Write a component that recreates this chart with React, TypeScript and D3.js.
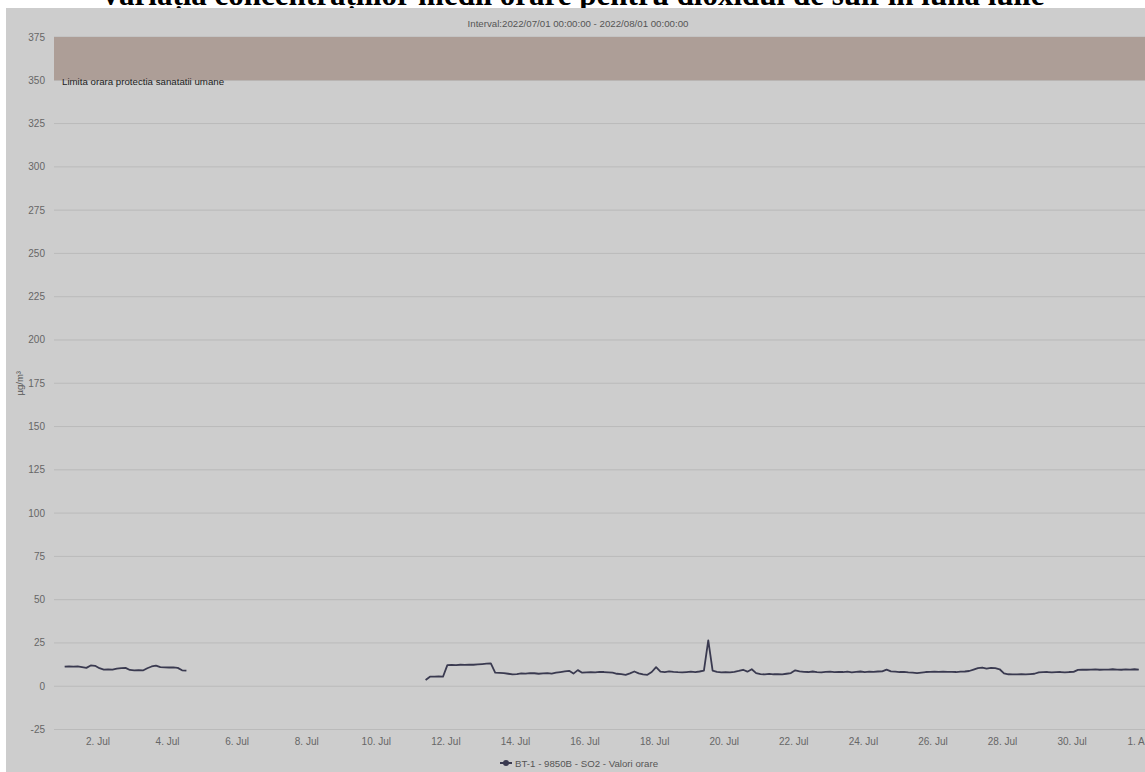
import React from "react";
import * as d3 from "d3";

const TITLE = "Variația concentrațiilor medii orare pentru dioxidul de sulf în luna iulie";
const SUBTITLE = "Interval:2022/07/01 00:00:00 - 2022/08/01 00:00:00";
const Y_TITLE = "µg/m³";
const BAND_LABEL = "Limita orara protectia sanatatii umane";
const LEGEND_LABEL = "BT-1 - 9850B - SO2 - Valori orare";

const yTicks = [-25, 0, 25, 50, 75, 100, 125, 150, 175, 200, 225, 250, 275, 300, 325, 350, 375];
const xTickDays = [2, 4, 6, 8, 10, 12, 14, 16, 18, 20, 22, 24, 26, 28, 30];
const xTickLabels = ["2. Jul", "4. Jul", "6. Jul", "8. Jul", "10. Jul", "12. Jul", "14. Jul", "16. Jul", "18. Jul", "20. Jul", "22. Jul", "24. Jul", "26. Jul", "28. Jul", "30. Jul", "1. Aug"];

const bandFrom = 350;
const bandTo = 375;

// hourly measurements sampled every 3 hours; hour offset from 2022-07-01 00:00 UTC
const seg1StartHour = 1;
const seg1Values = [11.3, 11.5, 11.3, 11.4, 11.0, 10.6, 12.0, 11.8, 10.4, 9.6, 9.7, 9.6, 10.2, 10.5, 10.6, 9.4, 9.2, 9.3, 9.1, 10.4, 11.4, 11.9, 11.0, 10.9, 10.8, 10.9, 10.6, 9.2, 9.0];

const seg2StartHour = 250;
const seg2Values = [
  3.6, 5.5, 5.5, 5.6, 5.5, 12.2, 12.3, 12.2, 12.4, 12.3, 12.5, 12.4, 12.6, 12.8, 13.0, 13.2,
  7.8, 7.7, 7.6, 7.2, 6.8, 7.0, 7.4, 7.3, 7.6, 7.5, 7.2, 7.4, 7.6, 7.3, 7.8, 8.2, 8.6, 8.9,
  7.3, 9.3, 7.8, 8.0, 8.1, 8.0, 8.3, 8.2, 8.0, 7.8, 7.2, 7.0, 6.6, 7.4, 8.5, 7.4, 6.8, 6.6,
  8.2, 11.0, 8.4, 8.2, 8.6, 8.3, 8.1, 8.0, 8.2, 8.4, 8.2, 8.5, 9.0, 26.5, 9.0, 8.3, 8.0, 8.2,
  8.0, 8.3, 8.8, 9.5, 8.4, 9.8, 7.6, 7.0, 6.8, 7.1, 6.9, 7.0, 6.8, 7.2, 7.6, 9.2, 8.6, 8.3,
  8.2, 8.5, 8.2, 8.0, 8.3, 8.4, 8.1, 8.3, 8.2, 8.4, 8.0, 8.3, 8.5, 8.2, 8.4, 8.3, 8.5, 8.6,
  9.6, 8.6, 8.4, 8.2, 8.3, 8.0, 7.8, 7.6, 7.9, 8.2, 8.3, 8.4, 8.3, 8.4, 8.3, 8.3, 8.2, 8.4,
  8.5, 8.8, 9.6, 10.4, 10.8, 10.2, 10.6, 10.4, 9.8, 7.4, 6.9, 6.8, 6.8, 6.9, 6.8, 7.0, 7.2,
  8.0, 8.1, 8.2, 8.0, 8.1, 8.2, 8.0, 8.2, 8.3, 9.4, 9.6, 9.5, 9.6, 9.7, 9.5, 9.6, 9.6, 9.8,
  9.6, 9.5, 9.7, 9.6, 9.8, 9.6,
];
const STEP_HOURS = 3;

const W = 1145;
const H = 772;
const PLOT_LEFT = 54;
const START = Date.UTC(2022, 6, 1);
const END = Date.UTC(2022, 7, 1);

export default function App() {
  const x = d3.scaleUtc().domain([new Date(START), new Date(END)]).range([63.2, 1141.7]);
  const y = d3.scaleLinear().domain([-25, 375]).range([729.5, 37]);

  const toPts = (start: number, vals: number[]) =>
    vals.map((v, i) => ({ t: new Date(START + (start + i * STEP_HOURS) * 3600000), v }));
  const segs = [toPts(seg1StartHour, seg1Values), toPts(seg2StartHour, seg2Values)];
  const line = d3
    .line<{ t: Date; v: number }>()
    .x((d) => x(d.t))
    .y((d) => y(d.v));

  const xTickDates = [...xTickDays.map((d) => new Date(Date.UTC(2022, 6, d))), new Date(END)];
  const font = "Arial, 'Liberation Sans', sans-serif";

  return (
    <svg
      width={W}
      height={H}
      style={{ position: "absolute", left: 0, top: 0, display: "block", background: "#fff" }}
    >
      <text
        x={572}
        y={5}
        textAnchor="middle"
        fontFamily="'Liberation Serif', 'Times New Roman', serif"
        fontWeight="bold"
        fontSize={31}
        fill="#000"
      >
        {TITLE}
      </text>
      <rect x={6} y={8} width={W - 6} height={H - 8} fill="#cdcdcd" />
      <text x={578} y={27} textAnchor="middle" fontFamily={font} fontSize={9.7} fill="#555">
        {SUBTITLE}
      </text>
      {yTicks.map((t) => (
        <g key={t}>
          <line x1={PLOT_LEFT} x2={W} y1={y(t)} y2={y(t)} stroke="#bababa" strokeWidth={1} />
          <text x={45} y={y(t) + 3.5} textAnchor="end" fontFamily={font} fontSize={10} fill="#666">
            {t}
          </text>
        </g>
      ))}
      <rect
        x={PLOT_LEFT}
        y={y(bandTo)}
        width={W - PLOT_LEFT}
        height={y(bandFrom) - y(bandTo)}
        fill="#ad9e97"
      />
      <text x={62} y={85} fontFamily={font} fontSize={9.7} fill="#222">
        {BAND_LABEL}
      </text>
      <text
        transform={`translate(23,${y(175)}) rotate(-90)`}
        textAnchor="middle"
        fontFamily={font}
        fontSize={9.5}
        fill="#555"
      >
        {Y_TITLE}
      </text>
      {xTickDates.map((d, i) => (
        <text
          key={i}
          x={x(d)}
          y={745}
          textAnchor="middle"
          fontFamily={font}
          fontSize={10}
          fill="#666"
        >
          {xTickLabels[i]}
        </text>
      ))}
      {segs.map((s, i) => (
        <path
          key={i}
          d={line(s) || ""}
          fill="none"
          stroke="#3a3a50"
          strokeWidth={1.8}
          strokeLinejoin="round"
        />
      ))}
      <g>
        <line x1={500} x2={512} y1={763} y2={763} stroke="#3a3a50" strokeWidth={2} />
        <circle cx={506} cy={763} r={3} fill="#3a3a50" />
        <text x={515} y={766.5} fontFamily={font} fontSize={9.7} fill="#555">
          {LEGEND_LABEL}
        </text>
      </g>
    </svg>
  );
}
